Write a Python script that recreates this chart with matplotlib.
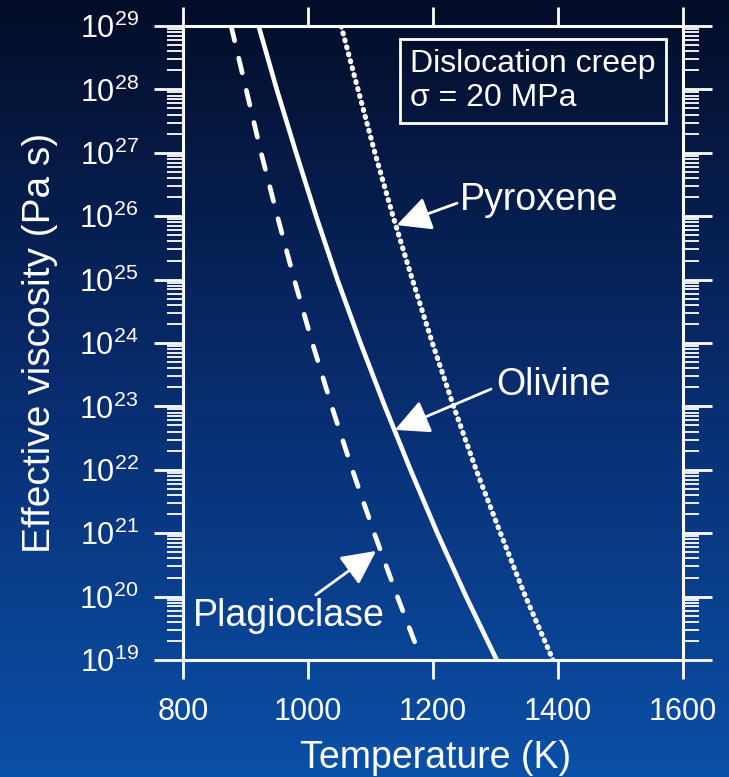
import numpy as np
import matplotlib
matplotlib.use("Agg")
import matplotlib.pyplot as plt
from matplotlib.ticker import LogLocator, FixedLocator, NullFormatter, FuncFormatter

# Effective viscosity (log10, Pa s) versus temperature (K), dislocation creep at 20 MPa
olivine_log_eta = [29, 28, 27, 26, 25, 24, 23, 22, 21, 20, 19]
olivine_T = [921, 950, 981, 1013, 1047, 1084, 1123, 1164, 1207, 1253, 1302]

pyroxene_log_eta = [29, 28, 27, 26, 25, 24, 23, 22, 21, 20, 19]
pyroxene_T = [1053, 1080, 1107, 1136, 1167, 1199, 1233, 1269, 1308, 1348, 1392]

plagioclase_log_eta = [29, 28, 27, 26, 25, 24, 23, 22, 21, 20, 19.2]
plagioclase_T = [877, 901, 925, 951, 978, 1007, 1038, 1071, 1106, 1143, 1174]

x_ticks = [800, 1000, 1200, 1400, 1600]
y_decades = list(range(19, 30))

plt.rcParams["font.family"] = ["Liberation Sans", "DejaVu Sans"]
plt.rcParams["mathtext.fontset"] = "custom"
plt.rcParams["mathtext.rm"] = "Liberation Sans"
plt.rcParams["mathtext.it"] = "Liberation Sans:italic"
plt.rcParams["mathtext.bf"] = "Liberation Sans:bold"

W = "white"
fig = plt.figure(figsize=(7.29, 7.77), dpi=100)

# vertical navy-to-blue backdrop
bg = fig.add_axes([0, 0, 1, 1], zorder=-10)
stops_pos = np.array([0.0, 0.5, 1.0])
stops_col = np.array([[3, 13, 40], [8, 44, 110], [11, 80, 168]]) / 255.0
yy = np.linspace(0, 1, 400)
grad = np.stack([np.interp(yy, stops_pos, stops_col[:, c]) for c in range(3)], axis=-1)
bg.imshow(grad[:, None, :], aspect="auto", extent=[0, 1, 1, 0])
bg.set_axis_off()

ax = fig.add_axes([183 / 729, 1 - 660 / 777, 500 / 729, 634 / 777])
ax.set_facecolor("none")
ax.set_yscale("log")
ax.set_xlim(800, 1600)
ax.set_ylim(1e19, 1e29)

def eta(logs):
    return [10.0 ** v for v in logs]

ax.plot(olivine_T, eta(olivine_log_eta), color=W, lw=3.3, solid_capstyle="butt")
ax.plot(pyroxene_T, eta(pyroxene_log_eta), color=W, lw=3.7,
        linestyle=(0, (0.2, 1.2)), dash_capstyle="round", dash_joinstyle="round")
ax.plot(plagioclase_T, eta(plagioclase_log_eta), color=W, lw=3.4,
        linestyle=(0, (3.2, 3.8)), dash_capstyle="round")

for sp in ax.spines.values():
    sp.set_color(W)
    sp.set_linewidth(2.2)

ax.xaxis.set_major_locator(FixedLocator(x_ticks))
ax.yaxis.set_major_locator(FixedLocator([10.0 ** d for d in y_decades]))
ax.yaxis.set_minor_locator(LogLocator(base=10, subs=np.arange(2, 10), numticks=100))
ax.yaxis.set_minor_formatter(NullFormatter())
ax.yaxis.set_major_formatter(FuncFormatter(
    lambda v, _: r"$10^{%d}$" % int(round(np.log10(v)))))

ax.tick_params(axis="x", which="major", direction="out", top=True, bottom=True,
               length=13.5, width=2.0, color=W, labelcolor=W, labelsize=22, pad=13)
ax.tick_params(axis="y", which="major", direction="out", left=True, right=True,
               length=21, width=2.0, color=W, labelcolor=W, labelsize=22, pad=11)
ax.tick_params(axis="y", which="minor", direction="out", left=True, right=True,
               length=11.5, width=1.3, color=W)

ax.set_xlabel("Temperature (K)", color=W, fontsize=27)
ax.set_ylabel("Effective viscosity (Pa s)", color=W, fontsize=28)
ax.xaxis.label.set_va("center")
ax.yaxis.label.set_va("center")
ax.xaxis.set_label_coords(0.506, -0.155)
ax.yaxis.set_label_coords(-0.287, 0.5)

ax.text(0.70, 0.913, "Dislocation creep\n\u03c3 = 20 MPa", transform=ax.transAxes,
        ha="center", va="center", multialignment="left", color=W, fontsize=23,
        linespacing=1.15,
        bbox=dict(boxstyle="square,pad=0.33", facecolor="none", edgecolor=W, lw=2.0))

arrow_kw = dict(arrowstyle="-|>,head_length=0.42,head_width=0.21", color=W, lw=2.0,
                shrinkA=0, shrinkB=0, mutation_scale=50)

ax.annotate("Pyroxene", xy=(1142, 10 ** 25.86), xytext=(1243, 10 ** 26.25),
            color=W, fontsize=27, ha="left", va="center",
            arrowprops=dict(arrow_kw, relpos=(0, 0.45)))
ax.annotate("Olivine", xy=(1139, 10 ** 22.63), xytext=(1302, 10 ** 23.33),
            color=W, fontsize=27, ha="left", va="center",
            arrowprops=dict(arrow_kw, relpos=(-0.05, 0.4)))
ax.annotate("Plagioclase", xy=(1109, 10 ** 20.72), xytext=(816, 10 ** 19.70),
            color=W, fontsize=27, ha="left", va="center",
            arrowprops=dict(arrow_kw, relpos=(0.62, 1.0)))

fig.savefig("out.png", dpi=100)
